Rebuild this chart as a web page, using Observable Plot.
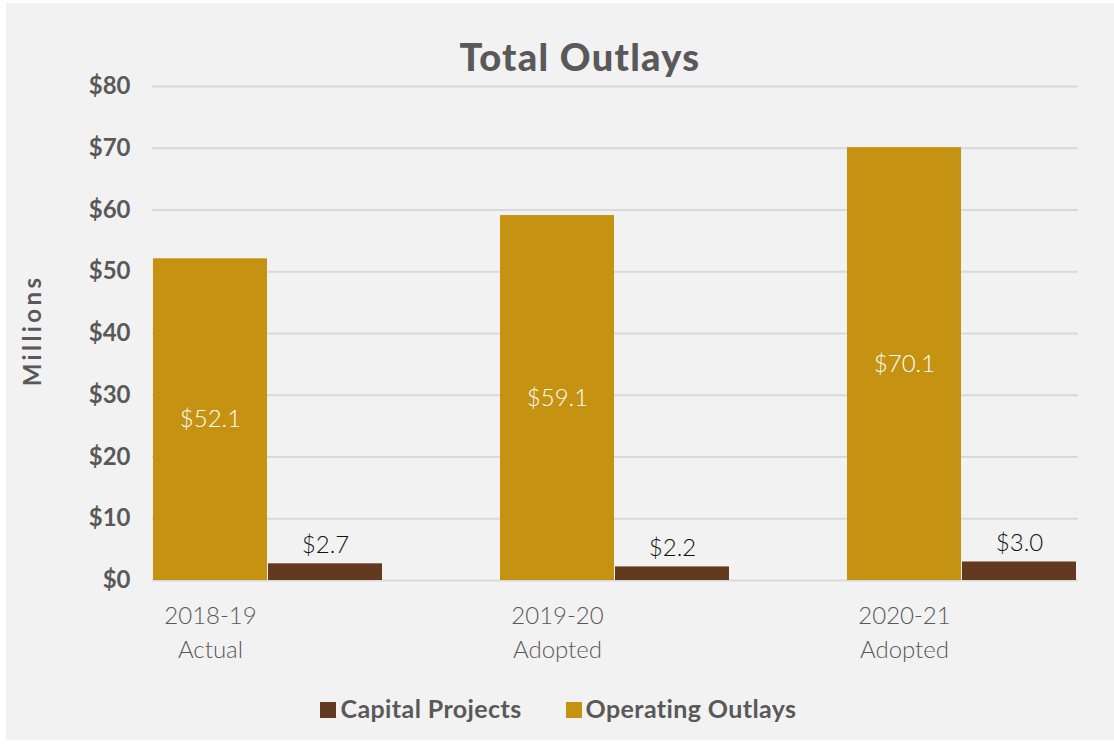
<!DOCTYPE html>
<html>
<head>
<meta charset="utf-8">
<script src="https://cdn.jsdelivr.net/npm/d3@7"></script>
<script src="https://cdn.jsdelivr.net/npm/@observablehq/plot@0.6"></script>
<style>
  html, body { margin: 0; padding: 0; background: #ffffff; }
  body { width: 1114px; height: 744px; position: relative; overflow: hidden; font-family: Lato, "Open Sans", sans-serif; }
  #panel { position: absolute; left: 6px; top: 3px; width: 1108px; height: 737px; background: #f2f2f2; }
  #title { position: absolute; left: 0; top: 37px; width: 1160px; text-align: center; font-size: 38px; line-height: 38px; font-weight: 900; color: #595959; letter-spacing: 1.3px; }
  #chart { position: absolute; left: 0; top: 70px; }
  #legend { position: absolute; left: 0; top: 693px; width: 1117px; display: flex; justify-content: center; gap: 44px; font-size: 25px; font-weight: 700; color: #595959; line-height: 30px; letter-spacing: 0.4px; }
  #legend .item { display: flex; align-items: center; }
  #legend .sw { width: 16px; height: 16px; margin-right: 4px; margin-top: 3px; }
</style>
</head>
<body>
<div id="panel"></div>
<div id="title">Total Outlays</div>
<div id="chart"></div>
<div id="legend"></div>
<script>
// Fiscal years shown on the x axis (two-line labels)
const years = ["2018-19\nActual", "2019-20\nAdopted", "2020-21\nAdopted"];
// Outlays in millions of dollars
const operatingOutlays = [52.1, 59.1, 70.1];
const capitalProjects = [2.7, 2.2, 3.0];
// Series names and colours
const seriesNames = ["Capital Projects", "Operating Outlays"];
const seriesColors = ["#633a1f", "#c59212"];
// Y axis ticks
const yTicks = [0, 10, 20, 30, 40, 50, 60, 70, 80];
const yTitle = "Millions";

const rows = years.map((year, i) => ({
  year,
  operating: operatingOutlays[i],
  capital: capitalProjects[i]
}));

const width = 1114;
const marginLeft = 152;
const marginRight = 36;
const paddingInner = 0.339;
// each year band holds two side-by-side bars
const step = (width - marginLeft - marginRight) / (years.length - paddingInner);
const half = (step * (1 - paddingInner)) / 2;

const fmt = (v) => "$" + v.toFixed(1);

const chart = Plot.plot({
  width,
  height: 600,
  marginLeft,
  marginRight,
  marginTop: 16,
  marginBottom: 90,
  style: { background: "transparent", fontFamily: "Lato, 'Open Sans', sans-serif" },
  x: { domain: years, paddingInner, paddingOuter: 0, axis: null },
  y: { domain: [0, 80], ticks: yTicks, axis: null },
  marks: [
    Plot.ruleY(yTicks, { stroke: "#d9d9d9", strokeWidth: 2.2 }),
    Plot.axisY(yTicks, {
      tickSize: 0,
      tickPadding: 22,
      tickFormat: (d) => "$" + d,
      fontSize: 24,
      fontWeight: 700,
      fill: "#595959",
      label: null
    }),
    Plot.text([yTitle], {
      frameAnchor: "left",
      textAnchor: "middle",
      rotate: -90,
      dx: -119,
      dy: -3,
      fontSize: 24,
      fontWeight: 700,
      fill: "#595959"
    }),
    Plot.barY(rows, { x: "year", y: "operating", fill: seriesColors[1], insetRight: half }),
    Plot.barY(rows, { x: "year", y: "capital", fill: seriesColors[0], insetLeft: half }),
    Plot.text(rows, {
      x: "year",
      y: (d) => d.operating / 2,
      text: (d) => fmt(d.operating),
      dx: -half / 2,
      fill: "white",
      fontSize: 24,
      fontWeight: 300
    }),
    Plot.text(rows, {
      x: "year",
      y: "capital",
      text: (d) => fmt(d.capital),
      dx: half / 2,
      dy: -19,
      fill: "#111111",
      fontSize: 24,
      fontWeight: 300
    }),
    Plot.text(rows, {
      x: "year",
      y: () => 0,
      text: "year",
      dx: -half / 2,
      dy: 20,
      lineAnchor: "top",
      lineHeight: 1.4,
      fill: "#595959",
      fontSize: 24,
      fontWeight: 300
    })
  ]
});

// widen the tracking of the rotated axis title
chart.querySelectorAll("text").forEach((t) => {
  if (t.textContent === yTitle) t.setAttribute("letter-spacing", "3.4");
});
document.getElementById("chart").appendChild(chart);

const legend = document.getElementById("legend");
seriesNames.forEach((name, i) => {
  const item = document.createElement("div");
  item.className = "item";
  const sw = document.createElement("span");
  sw.className = "sw";
  sw.style.background = seriesColors[i];
  const label = document.createElement("span");
  label.textContent = name;
  item.appendChild(sw);
  item.appendChild(label);
  legend.appendChild(item);
});
</script>
</body>
</html>
